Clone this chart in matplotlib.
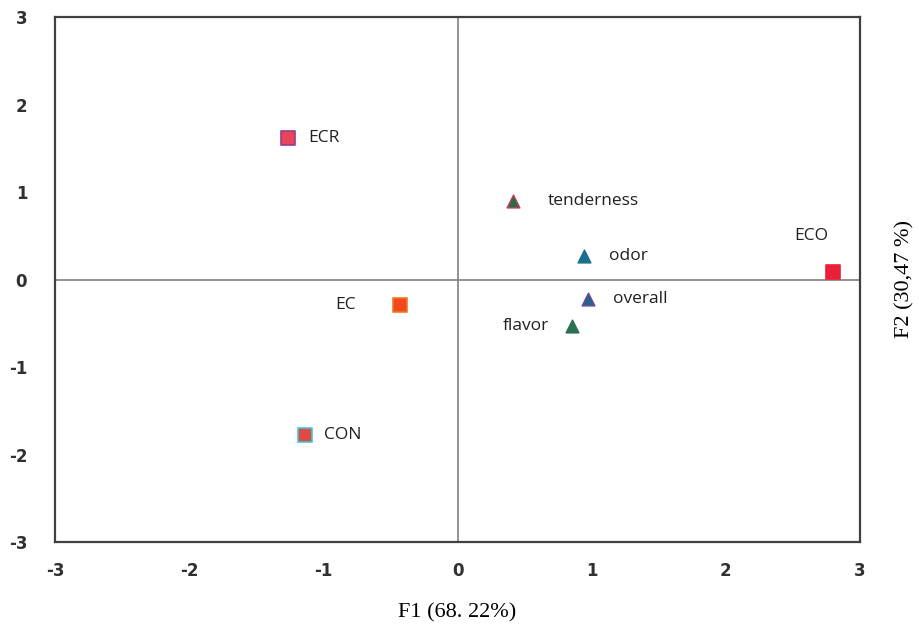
import matplotlib
matplotlib.use('Agg')
import matplotlib.pyplot as plt

plt.rcParams['axes.unicode_minus'] = False

# Observations (squares)
obs_names = ['ECR', 'EC', 'CON', 'ECO']
obs_f1 = [-1.26, -0.43, -1.14, 2.80]
obs_f2 = [1.62, -0.29, -1.78, 0.09]
obs_fill = ['#e8455a', '#f04a1e', '#e04a44', '#ea2038']
obs_edge = ['#9a3a8a', '#f07a20', '#40c8d8', '#ea2038']

# Sensory variables (triangles)
var_names = ['tenderness', 'odor', 'overall', 'flavor']
var_f1 = [0.41, 0.94, 0.97, 0.85]
var_f2 = [0.90, 0.27, -0.22, -0.53]
var_fill = ['#2a6a50', '#1a6e8e', '#2a6090', '#2a7050']
var_edge = ['#c04050', '#1a6e8e', '#6a4a9a', '#2a7050']

# label offsets in points (dx, dy) and alignment
obs_offsets = {'ECR': (14, 0, 'left'), 'EC': (-32, 0, 'right'),
               'CON': (14, 0, 'left'), 'ECO': (-16, 26, 'center')}
var_offsets = {'tenderness': (25, 0, 'left'), 'odor': (18, 0, 'left'),
               'overall': (18, 0, 'left'), 'flavor': (-16, 0, 'right')}

ticks = [-3, -2, -1, 0, 1, 2, 3]

fig = plt.figure(figsize=(9.2, 6.34), dpi=100)
ax = fig.add_axes([0.0598, 0.145, 0.875, 0.828])

ax.axhline(0, color='#808080', lw=1.2, zorder=1)
ax.axvline(0, color='#808080', lw=1.2, zorder=1)

for name, x, y, fc, ec in zip(obs_names, obs_f1, obs_f2, obs_fill, obs_edge):
    ax.scatter(x, y, marker='s', s=90, color=fc, edgecolors=ec, linewidths=1.2, zorder=3)
    dx, dy, ha = obs_offsets[name]
    ax.annotate(name, (x, y), xytext=(dx, dy), textcoords='offset points',
                ha=ha, va='center', fontsize=12.5, family='Open Sans', color='#202020')

for name, x, y, fc, ec in zip(var_names, var_f1, var_f2, var_fill, var_edge):
    ax.scatter(x, y, marker='^', s=85, color=fc, edgecolors=ec, linewidths=1.0, zorder=3)
    dx, dy, ha = var_offsets[name]
    ax.annotate(name, (x, y), xytext=(dx, dy), textcoords='offset points',
                ha=ha, va='center', fontsize=12.5, family='Open Sans', color='#202020')

ax.set_xlim(-3, 3)
ax.set_ylim(-3, 3)
ax.set_xticks(ticks)
ax.set_yticks(ticks)
ax.tick_params(length=0, labelsize=12, pad=14)
ax.tick_params(axis='y', pad=20)
for lab in ax.get_xticklabels() + ax.get_yticklabels():
    lab.set_fontweight('bold')
    lab.set_color('#303030')

for sp in ax.spines.values():
    sp.set_color('#404040')
    sp.set_linewidth(1.6)

fig.text(0.497, 0.018, 'F1 (68. 22%)', ha='center', va='bottom',
         fontsize=16, family='Liberation Serif')
fig.text(0.983, 0.56, 'F2 (30,47 %)', ha='center', va='center', rotation=90,
         fontsize=16, family='Liberation Serif')

fig.savefig('out.png', dpi=100)
